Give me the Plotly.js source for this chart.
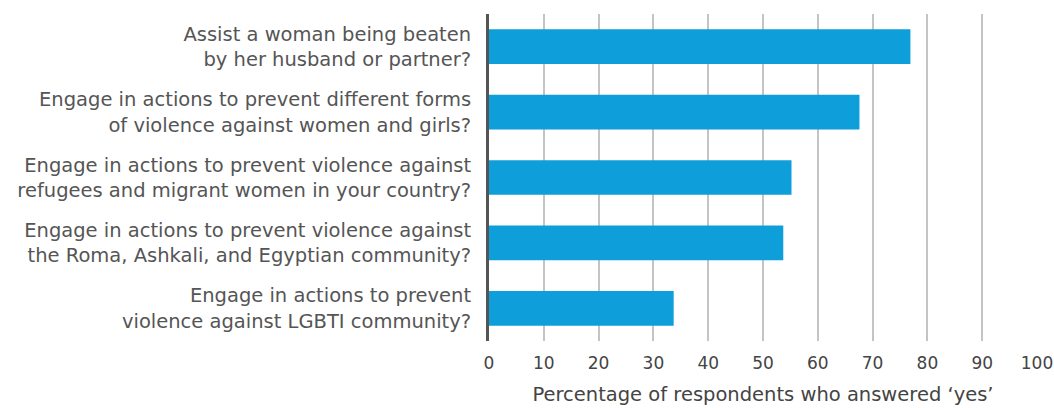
<!DOCTYPE html>
<html>
<head>
<meta charset="utf-8">
<script src="https://cdn.plot.ly/plotly-3.0.1.min.js"></script>
<style>html,body{margin:0;padding:0;background:#fff}#chart{width:1054px;height:408px}</style>
</head>
<body>
<div id="chart"></div>
<script>
const categories = [
  "Assist a woman being beaten<br>by her husband or partner?",
  "Engage in actions to prevent different forms<br>of violence against women and girls?",
  "Engage in actions to prevent violence against<br>refugees and migrant women in your country?",
  "Engage in actions to prevent violence against<br>the Roma, Ashkali, and Egyptian community?",
  "Engage in actions to prevent<br>violence against LGBTI community?"
];
const values = [76.9, 67.6, 55.2, 53.7, 33.7];
const tickValues = [0, 10, 20, 30, 40, 50, 60, 70, 80, 90, 100];
const xTitle = "Percentage of respondents who answered \u2018yes\u2019";

const trace = {
  type: 'bar',
  orientation: 'h',
  x: values,
  y: categories,
  marker: {color: '#0e9fda'},
  hoverinfo: 'none'
};

const layout = {
  width: 1054,
  height: 408,
  margin: {l: 489, r: 17, t: 14, b: 67},
  paper_bgcolor: '#fff',
  plot_bgcolor: '#fff',
  showlegend: false,
  bargap: 0.47,
  font: {family: 'DejaVu Sans, sans-serif', color: '#555', size: 18},
  xaxis: {
    range: [0, 100],
    tickvals: tickValues,
    ticktext: tickValues.map(String),
    showgrid: true,
    gridcolor: '#c4c4c4',
    gridwidth: 2,
    zeroline: false,
    showline: false,
    ticks: '',
    tickfont: {size: 17, color: '#444'},
    ticklabelstandoff: 10,
    title: {text: xTitle, font: {size: 19.5, color: '#444'}, standoff: 15},
    fixedrange: true
  },
  yaxis: {
    autorange: 'reversed',
    showline: true,
    linecolor: '#555',
    linewidth: 3,
    showgrid: false,
    zeroline: false,
    ticks: '',
    ticklabelstandoff: 11,
    tickfont: {size: 19.5, color: '#555'},
    fixedrange: true
  }
};

Plotly.newPlot('chart', [trace], layout, {displayModeBar: false, staticPlot: true});
</script>
</body>
</html>
